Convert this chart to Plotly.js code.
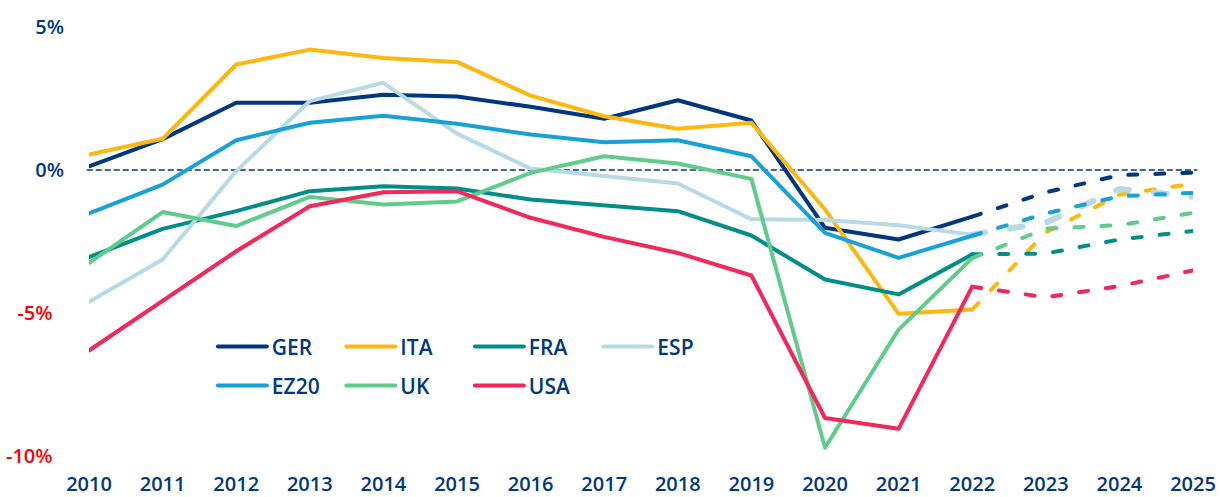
<!DOCTYPE html>
<html>
<head>
<meta charset="utf-8">
<script src="https://cdn.plot.ly/plotly-3.0.1.min.js"></script>
<style>
  html, body { margin: 0; padding: 0; background: #ffffff; }
  #chart { width: 1220px; height: 497px; }
  .scatterlayer .js-line, .legendlines .js-line { stroke-linecap: round; stroke-linejoin: round; }
</style>
</head>
<body>
<div id="chart"></div>
<script>
// ---- data ----
const years = [2010, 2011, 2012, 2013, 2014, 2015, 2016, 2017, 2018, 2019, 2020, 2021, 2022, 2023, 2024, 2025];
const lastActualYear = 2022;

const ger  = [0.13, 1.08, 2.35, 2.35, 2.63, 2.57, 2.21, 1.79, 2.44, 1.73, -2.02, -2.43, -1.63, -0.78, -0.18, -0.09];
const ita  = [0.54, 1.09, 3.69, 4.21, 3.92, 3.78, 2.60, 1.88, 1.44, 1.65, -1.38, -5.03, -4.88, -2.18, -0.86, -0.48];
const fra  = [-3.05, -2.06, -1.44, -0.74, -0.57, -0.65, -1.03, -1.24, -1.44, -2.29, -3.83, -4.35, -2.95, -2.92, -2.43, -2.13];
const esp  = [-4.61, -3.13, -0.04, 2.41, 3.05, 1.27, 0.05, -0.22, -0.47, -1.72, -1.75, -1.93, -2.26, -1.84, -0.66, -0.94];
const ez20 = [-1.52, -0.51, 1.04, 1.65, 1.90, 1.62, 1.24, 0.97, 1.04, 0.48, -2.20, -3.07, -2.30, -1.52, -0.92, -0.80];
const uk   = [-3.25, -1.47, -1.96, -0.94, -1.21, -1.10, -0.10, 0.48, 0.23, -0.31, -9.71, -5.58, -3.08, -2.05, -1.93, -1.50];
const usa  = [-6.31, -4.59, -2.84, -1.27, -0.78, -0.74, -1.67, -2.34, -2.90, -3.69, -8.67, -9.05, -4.08, -4.45, -4.06, -3.51];

const seriesNames = ['GER', 'ITA', 'FRA', 'ESP', 'EZ20', 'UK', 'USA'];
const seriesValues = [ger, ita, fra, esp, ez20, uk, usa];

const yTickVals = [-10, -5, 0, 5];
const yTickLabels = ['-10%', '-5%', '0%', '5%'];

// ---- styles ----
const colors = {
  GER: '#003781', ITA: '#FDB70F', FRA: '#008F88', ESP: '#B7DAE5',
  EZ20: '#18A1D7', UK: '#5FCC8B', USA: '#F3275A'
};
const navy = '#003781';
const legendRow1 = ['GER', 'ITA', 'FRA', 'ESP'];

const traces = [];
seriesNames.forEach((name, i) => {
  const vals = seriesValues[i];
  const actX = [], actY = [], fcX = [], fcY = [];
  years.forEach((yr, j) => {
    if (yr <= lastActualYear) { actX.push(yr); actY.push(vals[j]); }
    if (yr >= lastActualYear) { fcX.push(yr); fcY.push(vals[j]); }
  });
  const isEsp = name === 'ESP';
  const legendId = legendRow1.includes(name) ? 'legend' : 'legend2';
  traces.push({
    x: actX, y: actY, type: 'scatter', mode: 'lines', name: name,
    line: { color: colors[name], width: 4 },
    legend: legendId, hoverinfo: 'skip'
  });
  traces.push({
    x: fcX, y: fcY, type: 'scatter', mode: 'lines', name: name + ' (f)',
    line: { color: colors[name], width: isEsp ? 6 : 4, dash: isEsp ? '13px,25px' : '9px,18px' },
    showlegend: false, hoverinfo: 'skip'
  });
});

const fontFam = '"Open Sans", "Noto Sans", sans-serif';
const legendCommon = {
  orientation: 'h', xanchor: 'left', yanchor: 'middle',
  font: { family: fontFam, size: 21, color: navy, weight: 600 },
  bgcolor: 'rgba(0,0,0,0)', borderwidth: 0,
  itemwidth: 49, entrywidth: 64.5, tracegroupgap: 0, itemclick: false, itemdoubleclick: false
};

const layout = {
  width: 1220, height: 497,
  margin: { l: 89, r: 27, t: 27, b: 41 },
  paper_bgcolor: '#ffffff', plot_bgcolor: '#ffffff',
  showlegend: true,
  legend: Object.assign({}, legendCommon, { x: 0.1122, y: 0.2545 }),
  legend2: Object.assign({}, legendCommon, { x: 0.1122, y: 0.1635 }),
  xaxis: {
    range: [2010, 2025], tickvals: years, ticktext: years.map(String),
    showgrid: false, zeroline: false, showline: false, ticks: '',
    ticklabelstandoff: 14,
    tickfont: { family: fontFam, size: 20, color: navy, weight: 600 },
    fixedrange: true
  },
  yaxis: {
    range: [-10, 5], tickvals: yTickVals,
    ticktext: yTickLabels.map((t, k) => yTickVals[k] < 0
      ? '<span style="color:#FF0000">' + t + '</span>\u2007' : t),
    showgrid: false, zeroline: false, showline: false, ticks: '',
    ticklabelstandoff: 24,
    tickfont: { family: fontFam, size: 20, color: navy, weight: 600 },
    fixedrange: true
  },
  shapes: [{
    type: 'line', xref: 'paper', yref: 'y', x0: -0.002, x1: 1.004, y0: 0, y1: 0,
    line: { color: navy, width: 1.6, dash: '6px,3px' }, layer: 'below'
  }]
};

Plotly.newPlot('chart', traces, layout, { staticPlot: true, displayModeBar: false }).then(gd => {
  gd.querySelectorAll('.legendlines path').forEach(p => p.setAttribute('d', 'M5,0h49'));
});
</script>
</body>
</html>
